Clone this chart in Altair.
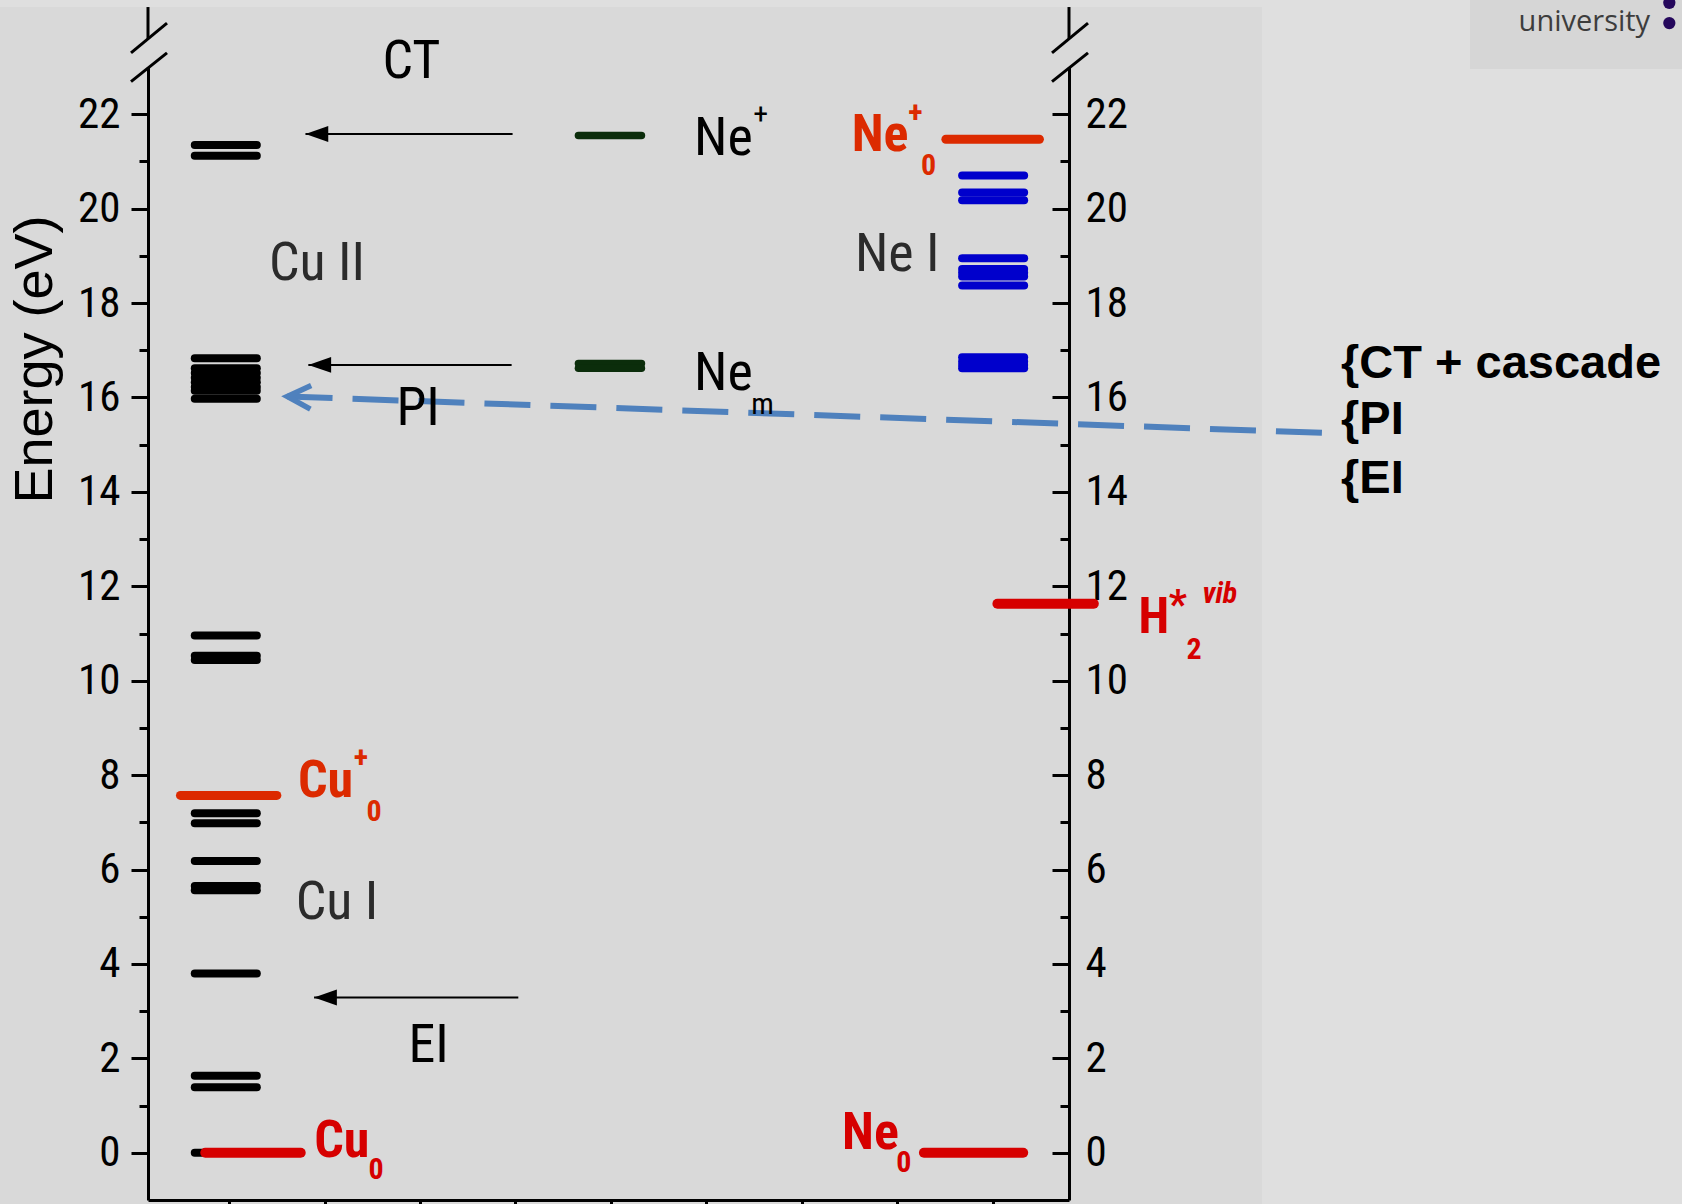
import altair as alt
import pandas as pd

# ---------------- energy levels (eV) ----------------
cu_levels = [21.35, 21.12, 16.83, 16.62, 16.52, 16.42, 16.32, 16.22, 16.14, 15.97,
             10.96, 10.53, 10.44, 7.19, 6.98, 6.18, 5.65, 5.56, 3.80, 1.63, 1.39, 0.0]
ne_levels = [21.55, 16.72, 16.62]                       # Ne+ and metastable Ne_m
ne_i_levels = [20.70, 20.34, 20.18, 18.95, 18.72, 18.64, 18.56, 18.37,
               16.85, 16.76, 16.69, 16.62]
ref_states = ["Cu0", "Cu+0", "Ne+0", "Ne0", "H2*"]
ref_energies = [0.0, 7.57, 21.47, 0.0, 11.63]

# ---------------- transitions ----------------
arrow_energies = [21.58, 16.69, 3.29]
arrow_tips = [1.80, 1.83, 1.89]
arrow_tails = [3.97, 3.96, 4.03]
pointer_x = [12.45, 1.61]
pointer_energy = [15.25, 16.02]

# ---------------- labels ----------------
plain_text = ["CT", "Cu II", "PI", "Cu I", "EI", "Ne I", "Ne", "Ne"]
plain_x = [2.91, 1.92, 2.98, 2.13, 3.09, 8.00, 6.18, 6.18]
plain_y = [23.18, 18.88, 15.81, 5.35, 2.33, 19.08, 21.54, 16.57]
plain_color = ["#000000", "#2b2b2b", "#000000", "#2b2b2b", "#000000", "#2b2b2b",
               "#000000", "#000000"]

small_text = ["+", "m"]
small_x = [6.57, 6.59]
small_y = [21.99, 15.85]

bold_text = ["Ne", "+", "0", "Cu", "+", "0", "Cu", "0", "Ne", "0", "H", "*", "2"]
bold_x = [7.82, 8.19, 8.33, 2.01, 2.38, 2.52, 2.18, 2.54, 7.72, 8.07, 10.69, 10.94, 11.11]
bold_y = [21.61, 22.06, 20.95, 7.91, 8.41, 7.27, 0.29, -0.33, 0.46, -0.17, 11.38, 11.63, 10.70]
bold_size = [52, 30, 30, 52, 30, 30, 52, 30, 52, 30, 50, 40, 30]
ORANGE = "#dc2a00"
RED = "#d60000"
bold_color = [ORANGE, ORANGE, ORANGE, ORANGE, ORANGE, ORANGE,
              RED, RED, RED, RED, RED, RED, RED]

side_text = ["{CT + cascade", "{PI", "{EI"]
side_y = [16.76, 15.57, 14.32]

major_ticks = list(range(0, 23, 2))
minor_ticks = list(range(1, 22, 2))
column_ticks = list(range(1, 10))

# ---------------- layout / style ----------------
NARROW = "Liberation Sans Narrow, Arial Narrow, Roboto Condensed, DejaVu Sans Condensed, sans-serif"
ARIAL = "Liberation Sans, Arial, sans-serif"
BLUE = "#4f81bd"
W, H = 921, 1133
X_DOMAIN = [0.15, 9.8]
Y_DOMAIN = [-1, 23]
xs = alt.Scale(domain=X_DOMAIN, nice=False, zero=False)
ys = alt.Scale(domain=Y_DOMAIN, nice=False, zero=False)

columns = {  # species -> (x start, x end, colour, stroke width)
    "Cu": (0.64, 1.29, "#000000", 8),
    "Ne": (4.66, 5.32, "#0b2d0b", 7.5),
    "NeI": (8.68, 9.33, "#0000cc", 8),
    "Cu0": (0.75, 1.75, RED, 10),
    "Cu+0": (0.49, 1.50, ORANGE, 9),
    "Ne+0": (8.51, 9.49, ORANGE, 9),
    "Ne0": (8.28, 9.32, RED, 10),
    "H2*": (9.05, 10.06, RED, 10),
}

rows = []
for species, energies in (("Cu", cu_levels), ("Ne", ne_levels), ("NeI", ne_i_levels)):
    for e in energies:
        rows.append((species, e))
rows += list(zip(ref_states, ref_energies))
level_df = pd.DataFrame(
    [{"energy": e, "x0": columns[s][0], "x1": columns[s][1],
      "color": columns[s][2], "width": columns[s][3]} for s, e in rows]
)

arrow_df = pd.DataFrame({"energy": arrow_energies, "tip": arrow_tips, "tail": arrow_tails})
pointer_df = pd.DataFrame({"x0": [pointer_x[0]], "y0": [pointer_energy[0]],
                           "x1": [pointer_x[1]], "y1": [pointer_energy[1]]})
tip_df = pd.DataFrame({"x": [pointer_x[1]], "y": [pointer_energy[1]]})

# axis break marks on top of both vertical axes
breaks = []
for xa in X_DOMAIN:
    breaks.append((xa, 23.60, xa, 24.27))
    breaks.append((xa - 0.178, 23.30, xa + 0.199, 23.93))
    breaks.append((xa - 0.178, 22.69, xa + 0.199, 23.30))
break_df = pd.DataFrame(breaks, columns=["x0", "y0", "x1", "y1"])

plain_df = pd.DataFrame({"t": plain_text, "x": plain_x, "y": plain_y, "c": plain_color})
small_df = pd.DataFrame({"t": small_text, "x": small_x, "y": small_y})
bold_df = pd.DataFrame({"t": bold_text, "x": bold_x, "y": bold_y, "s": bold_size, "c": bold_color})
vib_df = pd.DataFrame({"t": ["vib"], "x": [11.38], "y": [11.83]})
side_df = pd.DataFrame({"t": side_text, "x": [12.65] * 3, "y": side_y})
logo_df = pd.DataFrame({"t": ["university"], "x": [15.20], "y": [23.76]})
dots_df = pd.DataFrame({"x": [16.09, 16.09], "y": [24.36, 23.93]})
one = pd.DataFrame({"k": [0]})

# ---------------- axes ----------------
common = dict(grid=False, tickColor="black", domainColor="black")
left_axis = alt.Axis(orient="left", values=major_ticks, tickSize=17, tickWidth=3,
                     domainWidth=3, labelFont=NARROW, labelFontSize=43,
                     labelColor="black", labelPadding=11,
                     title="Energy (eV)", titleFont=ARIAL, titleFontSize=54,
                     titleFontWeight="normal", titleColor="black", titleAngle=270,
                     titleX=-113, titleY=292, titleAlign="center",
                     titleBaseline="middle", **common)
left_minor = alt.Axis(orient="left", values=minor_ticks, tickSize=9, tickWidth=3,
                      domain=False, labels=False, title=None, **common)
right_axis = alt.Axis(orient="right", values=major_ticks, ticks=False, tickSize=0,
                      domainWidth=3, labelFont=NARROW, labelFontSize=43,
                      labelColor="black", labelPadding=16, title=None, **common)
right_major = alt.Axis(orient="left", offset=-W, values=major_ticks, tickSize=17,
                       tickWidth=3, domain=False, labels=False, title=None, **common)
right_minor = alt.Axis(orient="left", offset=-W, values=minor_ticks, tickSize=9,
                       tickWidth=3, domain=False, labels=False, title=None, **common)
bottom_axis = alt.Axis(orient="bottom", values=column_ticks, tickSize=10, tickWidth=3,
                       domainWidth=3, labels=False, title=None, **common)


def xq(field, axis=None):
    return alt.X(f"{field}:Q", scale=xs, axis=axis)


def yq(field, axis=None):
    return alt.Y(f"{field}:Q", scale=ys, axis=axis)


# ---------------- background panels ----------------
light = alt.Chart(one).mark_rect(color="#dfdfdf").encode(
    x=alt.value(1262 - 148), x2=alt.value(1682 - 148),
    y=alt.value(-67), y2=alt.value(1204 - 67))
top_strip = alt.Chart(one).mark_rect(color="#dfdfdf").encode(
    x=alt.value(-148), x2=alt.value(1262 - 148),
    y=alt.value(-67), y2=alt.value(7 - 67))
logo_box = alt.Chart(one).mark_rect(color="#d6d6d6").encode(
    x=alt.value(1470 - 148), x2=alt.value(1682 - 148),
    y=alt.value(-67), y2=alt.value(69 - 67))

# ---------------- marks ----------------
levels = alt.Chart(level_df).mark_rule(strokeCap="round").encode(
    x=xq("x0", bottom_axis), x2="x1:Q",
    y=yq("energy", left_axis),
    color=alt.Color("color:N", scale=None),
    strokeWidth=alt.StrokeWidth("width:Q", scale=None),
)

shafts = alt.Chart(arrow_df).mark_rule(color="black", strokeWidth=2).encode(
    x=xq("tail"), x2="tip:Q", y=yq("energy", left_minor))

heads = alt.Chart(arrow_df).mark_point(
    shape="M0,0L2,-0.7L2,0.7Z", filled=True, color="black", size=520,
    opacity=1, strokeWidth=0).encode(x=xq("tip"), y=yq("energy", right_axis))

pointer = alt.Chart(pointer_df).mark_rule(
    color=BLUE, strokeWidth=6, strokeDash=[46, 20]).encode(
    x=xq("x0"), x2="x1:Q", y=yq("y0", right_major), y2="y1:Q")

pointer_tip = alt.Chart(tip_df).mark_point(
    shape="M2,-1L0,0L2,1", filled=False, color=BLUE, strokeWidth=5.5, size=550,
    opacity=1, angle=2).encode(x=xq("x"), y=yq("y", right_minor))

break_marks = alt.Chart(break_df).mark_rule(color="black", strokeWidth=3).encode(
    x=xq("x0"), x2="x1:Q", y=yq("y0"), y2="y1:Q")

plain_labels = alt.Chart(plain_df).mark_text(
    font=NARROW, fontSize=54, align="center", baseline="middle", dy=3).encode(
    x=xq("x"), y=yq("y"), text="t:N", color=alt.Color("c:N", scale=None))

small_labels = alt.Chart(small_df).mark_text(
    font=NARROW, fontSize=30, align="center", baseline="middle", color="black").encode(
    x=xq("x"), y=yq("y"), text="t:N")

bold_labels = alt.Chart(bold_df).mark_text(
    font=NARROW, fontWeight="bold", align="center", baseline="middle", dy=2).encode(
    x=xq("x"), y=yq("y"), text="t:N",
    size=alt.Size("s:Q", scale=None), color=alt.Color("c:N", scale=None))

vib_label = alt.Chart(vib_df).mark_text(
    font=NARROW, fontWeight="bold", fontStyle="italic", fontSize=30,
    align="center", baseline="middle", color=RED).encode(
    x=xq("x"), y=yq("y"), text="t:N")

side_labels = alt.Chart(side_df).mark_text(
    font=ARIAL, fontWeight="bold", fontSize=47, align="left", baseline="middle",
    color="black", dy=2).encode(x=xq("x"), y=yq("y"), text="t:N")

logo_text = alt.Chart(logo_df).mark_text(
    font="Open Sans, sans-serif", fontSize=29, align="center", baseline="alphabetic",
    color="#3d3d3d").encode(x=xq("x"), y=yq("y"), text="t:N")

logo_dots = alt.Chart(dots_df).mark_circle(color="#25085c", size=150, opacity=1).encode(
    x=xq("x"), y=yq("y"))

chart = alt.layer(
    light, top_strip, logo_box,
    levels, shafts, heads, pointer, pointer_tip, break_marks,
    plain_labels, small_labels, bold_labels, vib_label, side_labels,
    logo_text, logo_dots,
).resolve_axis(
    x="independent", y="independent"
).properties(
    width=W, height=H,
    autosize=alt.AutoSizeParams(type="none"),
    padding={"left": 148, "top": 67, "right": 1682 - 148 - W, "bottom": 1204 - 67 - H},
    background="#d9d9d9",
).configure_view(stroke=None)

chart.save("out.html", embed_options={"renderer": "svg", "actions": False})
